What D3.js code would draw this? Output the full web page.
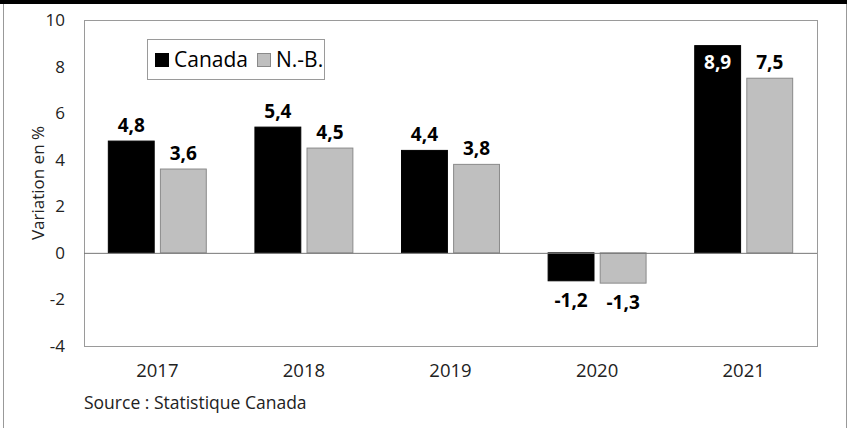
<!DOCTYPE html>
<html>
<head>
<meta charset="utf-8">
<script src="https://cdn.jsdelivr.net/npm/d3@7"></script>
<style>
  body { margin: 0; background: #fff; }
  svg { display: block; font-family: "Open Sans", sans-serif; }
</style>
</head>
<body>
<div class="graphContainer"></div>
<script>
// size + plot margins
const w = 852;
const h = 428;
const m = { top: 20, right: 35, bottom: 82, left: 84 };

// data
const years = ["2017", "2018", "2019", "2020", "2021"];
const series = ["Canada", "N.-B."];
const canada = [4.8, 5.4, 4.4, -1.2, 8.9];
const nb = [3.6, 4.5, 3.8, -1.3, 7.5];
const yTicks = [-4, -2, 0, 2, 4, 6, 8, 10];

const colors = { "Canada": "#000000", "N.-B.": "#bfbfbf" };
const strokes = { "Canada": "#000000", "N.-B.": "#8a8a8a" };

const rows = years.map((y, i) => ({ year: y, values: [
  { key: "Canada", value: canada[i] },
  { key: "N.-B.", value: nb[i] }
]}));

const svg = d3.select(".graphContainer").append("svg")
  .attr("width", w)
  .attr("height", h);

// frame: black band on top, thin grey sides
svg.append("rect").attr("x", 0).attr("y", 0).attr("width", w - 5).attr("height", 4).attr("fill", "#000");
svg.append("line").attr("x1", 3.5).attr("x2", 3.5).attr("y1", 4).attr("y2", h).attr("stroke", "#999");
svg.append("line").attr("x1", 846.5).attr("x2", 846.5).attr("y1", 4).attr("y2", h).attr("stroke", "#999");

const x0 = d3.scaleBand()
  .domain(years)
  .range([m.left, w - m.right])
  .paddingInner(0.325)
  .paddingOuter(0.1625);

const x1 = d3.scaleBand()
  .domain(series)
  .range([0, x0.bandwidth()])
  .paddingInner(0.1);

const y = d3.scaleLinear()
  .domain([-4, 10])
  .range([h - m.bottom, m.top]);

// plot border
svg.append("rect")
  .attr("x", m.left + 0.5)
  .attr("y", m.top + 0.5)
  .attr("width", w - m.right - m.left)
  .attr("height", h - m.bottom - m.top)
  .attr("fill", "none")
  .attr("stroke", "#9a9a9a");

// y axis labels (plain hyphen for negatives)
const yAxis = d3.axisLeft(y).tickValues(yTicks).tickSize(0).tickPadding(19)
  .tickFormat(d => String(d));
const gy = svg.append("g")
  .attr("transform", "translate(" + m.left + ",0)")
  .call(yAxis);
gy.select(".domain").remove();
gy.selectAll("text").attr("font-size", 17).attr("fill", "#222").attr("font-family", "Open Sans");

// x axis labels
const xAxis = d3.axisBottom(x0).tickSize(0).tickPadding(18);
const gx = svg.append("g")
  .attr("transform", "translate(0," + (h - m.bottom) + ")")
  .call(xAxis);
gx.select(".domain").remove();
gx.selectAll("text").attr("font-size", 18.5).attr("fill", "#222").attr("font-family", "Open Sans");

// axis title
svg.append("text")
  .attr("transform", "translate(44," + y(3) + ") rotate(-90)")
  .attr("text-anchor", "middle")
  .attr("font-size", 17)
  .attr("fill", "#222")
  .text("Variation en %");

// bars
const groups = svg.selectAll(".grp")
  .data(rows)
  .enter()
  .append("g")
  .attr("transform", d => "translate(" + x0(d.year) + ",0)");

groups.selectAll("rect")
  .data(d => d.values)
  .enter()
  .append("rect")
  .attr("x", d => x1(d.key) + 0.5)
  .attr("y", d => y(Math.max(0, d.value)))
  .attr("width", x1.bandwidth() - 1)
  .attr("height", d => Math.abs(y(d.value) - y(0)))
  .attr("fill", d => colors[d.key])
  .attr("stroke", d => strokes[d.key])
  .attr("stroke-width", 1);

// zero line
svg.append("line")
  .attr("x1", m.left).attr("x2", w - m.right)
  .attr("y1", y(0) + 0.5).attr("y2", y(0) + 0.5)
  .attr("stroke", "#777");

// value labels
groups.selectAll(".lbl")
  .data(d => d.values)
  .enter()
  .append("text")
  .attr("x", d => x1(d.key) + x1.bandwidth() / 2)
  .attr("y", d => {
    if (d.value < 0) return y(d.value) + 26;
    if (d.value > 8.5) return y(d.value) + 23;
    return y(d.value) - 9;
  })
  .attr("text-anchor", "middle")
  .attr("font-size", 19)
  .attr("font-weight", "bold")
  .attr("fill", d => (d.value > 8.5 ? "#fff" : "#000"))
  .text(d => String(d.value).replace(".", ","));

// legend
const leg = svg.append("g");
leg.append("rect")
  .attr("x", 147.5).attr("y", 39.5).attr("width", 177).attr("height", 40)
  .attr("fill", "#fff").attr("stroke", "#9a9a9a");
const legX = [155, 257];
series.forEach((s, i) => {
  leg.append("rect")
    .attr("x", legX[i] + 0.5).attr("y", 53.5).attr("width", 13).attr("height", 13)
    .attr("fill", colors[s]).attr("stroke", strokes[s]);
  leg.append("text")
    .attr("x", legX[i] + 19).attr("y", 67)
    .attr("font-size", 21)
    .attr("fill", "#000")
    .text(s);
});

// source
svg.append("text")
  .attr("x", m.left)
  .attr("y", 409)
  .attr("font-size", 17.5)
  .attr("fill", "#222")
  .text("Source : Statistique Canada");
</script>
</body>
</html>
